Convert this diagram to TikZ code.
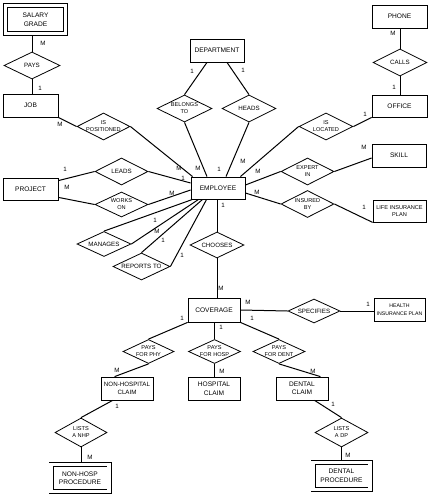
\documentclass[tikz,border=0pt]{standalone}
\usepackage{fontspec}
\setmainfont{Liberation Sans}
\usetikzlibrary{shapes.geometric,calc}
\tikzset{
  ent/.style={draw, line width=0.8pt, minimum width=54pt, minimum height=23pt, inner sep=0pt, align=center, font=\fontsize{6.6}{8.5}\selectfont},
  weak/.style={ent, double, double distance=3.4pt, outer sep=2.5pt},
  rel/.style={draw, diamond, line width=0.8pt, inner sep=0pt, minimum width=54pt, minimum height=27pt},
  rtext/.style={align=center, inner sep=0pt, font=\fontsize{5.6}{7}\selectfont},
  rtextb/.style={align=center, inner sep=0pt, font=\fontsize{6.2}{7}\selectfont},
  conn/.style={line width=1pt},
  card/.style={font=\fontsize{6.2}{6}\selectfont, inner sep=0pt},
}
\begin{document}
\begin{tikzpicture}[x=1pt,y=-1pt]
\useasboundingbox (0,0) rectangle (432,497);
% entities
\node[weak, minimum width=60pt, minimum height=28pt] (salary) at (35.5,19.5) {SALARY\\GRADE};
\node[ent, minimum width=55pt] (job) at (30.5,105.5) {JOB};
\node[ent] (dept) at (217,50.5) {DEPARTMENT};
\node[ent, minimum width=55pt] (phone) at (399.5,16.5) {PHONE};
\node[ent, minimum width=55pt, minimum height=22pt] (office) at (399.5,106) {OFFICE};
\node[ent, minimum width=55pt, minimum height=22pt] (project) at (30.5,189) {PROJECT};
\node[ent, minimum height=22pt] (emp) at (218,188) {EMPLOYEE};
\node[ent] (skill) at (399,155.5) {SKILL};
\node[ent, minimum width=53pt, minimum height=22pt, font=\fontsize{5.6}{7.5}\selectfont] (lifeins) at (399.5,211) {LIFE INSURANCE\\PLAN};
\node[ent, minimum width=52pt, minimum height=24pt] (coverage) at (214,310) {COVERAGE};
\node[ent, minimum width=51pt, font=\fontsize{5.2}{7.5}\selectfont] (healthins) at (399.5,309.5) {HEALTH\\INSURANCE PLAN};
\node[ent, minimum width=52pt, font=\fontsize{6.2}{8.5}\selectfont] (nonhosp) at (127,388.5) {NON-HOSPITAL\\CLAIM};
\node[ent, minimum width=52pt] (hosp) at (214,388.5) {HOSPITAL\\CLAIM};
\node[ent, minimum width=52pt] (dental) at (302,388.5) {DENTAL\\CLAIM};
\node[weak, minimum width=58pt, minimum height=27pt] (nhproc) at (80,478) {NON-HOSP\\PROCEDURE};
\node[weak, minimum width=57pt, minimum height=27pt] (dproc) at (341.5,476) {DENTAL\\PROCEDURE};
% relationships
\node[rel, minimum width=56pt, label={[rtextb]center:PAYS}] (pays) at (32,65.5) {};
\node[rel, label={[rtextb]center:CALLS}] (calls) at (400,62.5) {};
\node[rel, minimum width=55pt, label={[rtext]center:BELONGS\\TO}] (belongs) at (184.5,108.5) {};
\node[rel, label={[rtextb]center:HEADS}] (heads) at (249,108.5) {};
\node[rel, minimum width=53pt, label={[rtext]center:IS\\POSITIONED}] (ispos) at (103.5,126.5) {};
\node[rel, label={[rtext]center:IS\\LOCATED}] (isloc) at (326,126.5) {};
\node[rel, minimum width=53pt, label={[rtextb]center:LEADS}] (leads) at (121.5,171.5) {};
\node[rel, minimum width=53pt, minimum height=25pt, label={[rtext]center:WORKS\\ON}] (workson) at (121.5,204.5) {};
\node[rel, minimum width=53pt, label={[rtext]center:EXPERT\\IN}] (expert) at (307.5,171.5) {};
\node[rel, minimum width=53pt, label={[rtext]center:INSURED\\BY}] (insured) at (307.5,204) {};
\node[rel, minimum height=25pt, label={[rtextb]center:MANAGES}] (manages) at (104,244) {};
\node[rel, minimum width=57pt, label={[rtextb]center:REPORTS TO}] (reports) at (141.5,266.5) {};
\node[rel, minimum height=26pt, label={[rtextb]center:CHOOSES}] (chooses) at (217,245) {};
\node[rel, minimum width=52pt, minimum height=24pt, label={[rtextb]center:SPECIFIES}] (specifies) at (314,311) {};
\node[rel, minimum width=51pt, minimum height=24pt, label={[rtext]center:PAYS\\FOR PHY}] (payphy) at (148.5,351.5) {};
\node[rel, minimum width=52pt, minimum height=24pt, label={[rtext]center:PAYS\\FOR HOSP}] (payhosp) at (214.5,351.5) {};
\node[rel, minimum width=52pt, minimum height=24pt, label={[rtext]center:PAYS\\FOR DENT}] (paydent) at (279,351.5) {};
\node[rel, minimum width=52pt, minimum height=29pt, label={[rtext]center:LISTS\\A NHP}] (listnhp) at (81,432.5) {};
\node[rel, minimum width=53pt, minimum height=29pt, label={[rtext]center:LISTS\\A DP}] (listdp) at (341.5,432.5) {};
% connectors
\draw[conn] (pays.north |- salary.south) -- (pays.north);
\draw[conn] (pays.south) -- (pays.south |- job.north);
\draw[conn] (job.south east) -- (ispos.west);
\draw[conn] (ispos.east) -- ($(emp.north west)+(2,0)$);
\draw[conn] ($(dept.south)+(-10,0)$) -- (belongs.north);
\draw[conn] (belongs.south) -- ($(emp.north)+(-11,0)$);
\draw[conn] ($(dept.south)+(10,0)$) -- (heads.north);
\draw[conn] (heads.south) -- ($(emp.north)+(8,0)$);
\draw[conn] (calls.north |- phone.south) -- (calls.north);
\draw[conn] (calls.south) -- (calls.south |- office.north);
\draw[conn] (office.south west) -- (isloc.east);
\draw[conn] (isloc.west) -- ($(emp.north east)+(-5,0)$);
\draw[conn] ($(project.north east)+(0,3)$) -- (leads.west);
\draw[conn] (leads.east) -- ($(emp.west)+(0,-5)$);
\draw[conn] ($(project.south east)+(0,-3)$) -- (workson.west);
\draw[conn] (workson.east) -- ($(emp.west)+(0,2)$);
\draw[conn] (manages.north) -- ($(emp.south west)+(2,0)$);
\draw[conn] (manages.east) -- ($(emp.south west)+(8,0)$);
\draw[conn] (reports.north) -- ($(emp.south west)+(12,0)$);
\draw[conn] (reports.east) -- ($(emp.south west)+(16,0)$);
\draw[conn] ($(emp.east)+(0,-3)$) -- (expert.west);
\draw[conn] (expert.east) -- ($(skill.west)+(0,2.5)$);
\draw[conn] ($(emp.east)+(0,5)$) -- (insured.west);
\draw[conn] (insured.east) -- (lifeins.south west);
\draw[conn] (chooses.north |- emp.south) -- (chooses.north);
\draw[conn] (chooses.south) -- (chooses.south |- coverage.north);
\draw[conn] (coverage.east) -- (specifies.west);
\draw[conn] (specifies.east) -- (specifies.east -| healthins.west);
\draw[conn] (coverage.south west) -- (payphy.north);
\draw[conn] (payhosp.north |- coverage.south) -- (payhosp.north);
\draw[conn] (coverage.south east) -- (paydent.north);
\draw[conn] (payphy.south) -- ($(nonhosp.north west)+(14,0)$);
\draw[conn] (payhosp.south) -- (payhosp.south |- hosp.north);
\draw[conn] (paydent.south) -- ($(dental.north east)+(-8,0)$);
\draw[conn] ($(nonhosp.south west)+(12,0)$) -- (listnhp.north);
\draw[conn] (listnhp.south) -- (listnhp.south |- nhproc.north);
\draw[conn] ($(dental.south west)+(39,0)$) -- (listdp.north);
\draw[conn] (listdp.south) -- (listdp.south |- dproc.north);
% cardinalities
\node[card] (c1) at (43,43) {M};
\node[card] (c2) at (40,88) {1};
\node[card] (c3) at (60,124) {M};
\node[card] (c4) at (179,168) {M};
\node[card] (c5) at (192,71) {1};
\node[card] (c6) at (198,168) {M};
\node[card] (c7) at (243,70) {1};
\node[card] (c8) at (219,169) {1};
\node[card] (c9) at (393,33) {M};
\node[card] (c10) at (394,87) {1};
\node[card] (c11) at (365,114) {1};
\node[card] (c12) at (243,161) {M};
\node[card] (c13) at (65,169) {1};
\node[card] (c14) at (183,178) {1};
\node[card] (c15) at (67,187) {M};
\node[card] (c16) at (172,193) {M};
\node[card] (c17) at (155,220) {1};
\node[card] (c18) at (157,231) {M};
\node[card] (c19) at (163,240) {1};
\node[card] (c20) at (182,255) {1};
\node[card] (c21) at (258,171) {M};
\node[card] (c22) at (364,147) {M};
\node[card] (c23) at (257,192) {M};
\node[card] (c24) at (364,207) {1};
\node[card] (c25) at (223,205) {1};
\node[card] (c26) at (221,288) {M};
\node[card] (c27) at (248,302) {M};
\node[card] (c28) at (368,304) {1};
\node[card] (c29) at (182,318) {1};
\node[card] (c30) at (221,327) {1};
\node[card] (c31) at (252,318) {1};
\node[card] (c32) at (117,370) {M};
\node[card] (c33) at (222,371) {M};
\node[card] (c34) at (313,371) {M};
\node[card] (c35) at (117,406) {1};
\node[card] (c36) at (90,457) {M};
\node[card] (c37) at (333,404) {1};
\node[card] (c38) at (348,455) {M};
\end{tikzpicture}
\end{document}
